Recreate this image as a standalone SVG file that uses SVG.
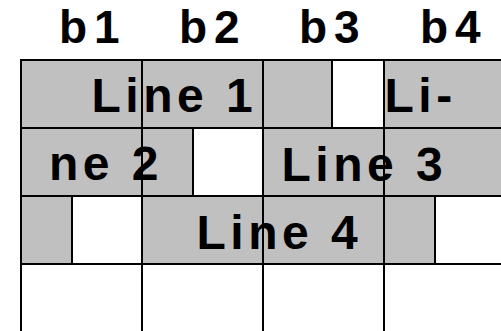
<svg xmlns="http://www.w3.org/2000/svg" width="501" height="331" viewBox="0 0 501 331">
<style>
.g{fill:#c0c0c0;stroke:#000;stroke-width:2}
.w{fill:#fff;stroke:#000;stroke-width:2}
.t{font-family:"Liberation Sans",Arial,Helvetica,sans-serif;font-weight:bold;font-size:48px;fill:#000;letter-spacing:4.5px}
.h{font-family:"Liberation Sans",Arial,Helvetica,sans-serif;font-weight:bold;font-size:46px;fill:#000;letter-spacing:7px}
.grid{stroke:#000;stroke-width:2;fill:none}
</style>
<rect width="501" height="331" fill="#fff"/>
<g id="headers">
<text class="h" x="59" y="43">b1</text>
<text class="h" x="179" y="43">b2</text>
<text class="h" x="299" y="43">b3</text>
<text class="h" x="420" y="43">b4</text>
</g>
<g id="row1">
<rect class="g" x="21" y="60" width="242" height="68"/>
<rect class="g" x="263" y="60" width="69" height="68"/>
<rect class="w" x="332" y="60" width="52" height="68"/>
<rect class="g" x="384" y="60" width="130" height="68"/>
<text class="t" x="91.5" y="112">Line 1</text>
<text class="t" x="384.5" y="112">Li-</text>
</g>
<g id="row2">
<rect class="g" x="21" y="128" width="172" height="68"/>
<rect class="w" x="193" y="128" width="70" height="68"/>
<rect class="g" x="263" y="128" width="251" height="68"/>
<text class="t" x="49" y="180">ne 2</text>
<text class="t" x="281.5" y="181">Line 3</text>
</g>
<g id="row3">
<rect class="g" x="21" y="196" width="51" height="68"/>
<rect class="w" x="72" y="196" width="70" height="68"/>
<rect class="g" x="142" y="196" width="293" height="68"/>
<rect class="w" x="435" y="196" width="79" height="68"/>
<text class="t" x="196.5" y="249">Line 4</text>
</g>
<g id="grid" class="grid">
<line x1="21" y1="60" x2="21" y2="340"/>
<line x1="142" y1="60" x2="142" y2="340"/>
<line x1="263" y1="60" x2="263" y2="340"/>
<line x1="384" y1="60" x2="384" y2="340"/>
<line x1="21" y1="60" x2="510" y2="60"/>
<line x1="21" y1="128" x2="510" y2="128"/>
<line x1="21" y1="196" x2="510" y2="196"/>
<line x1="21" y1="264" x2="510" y2="264"/>
</g>
</svg>
